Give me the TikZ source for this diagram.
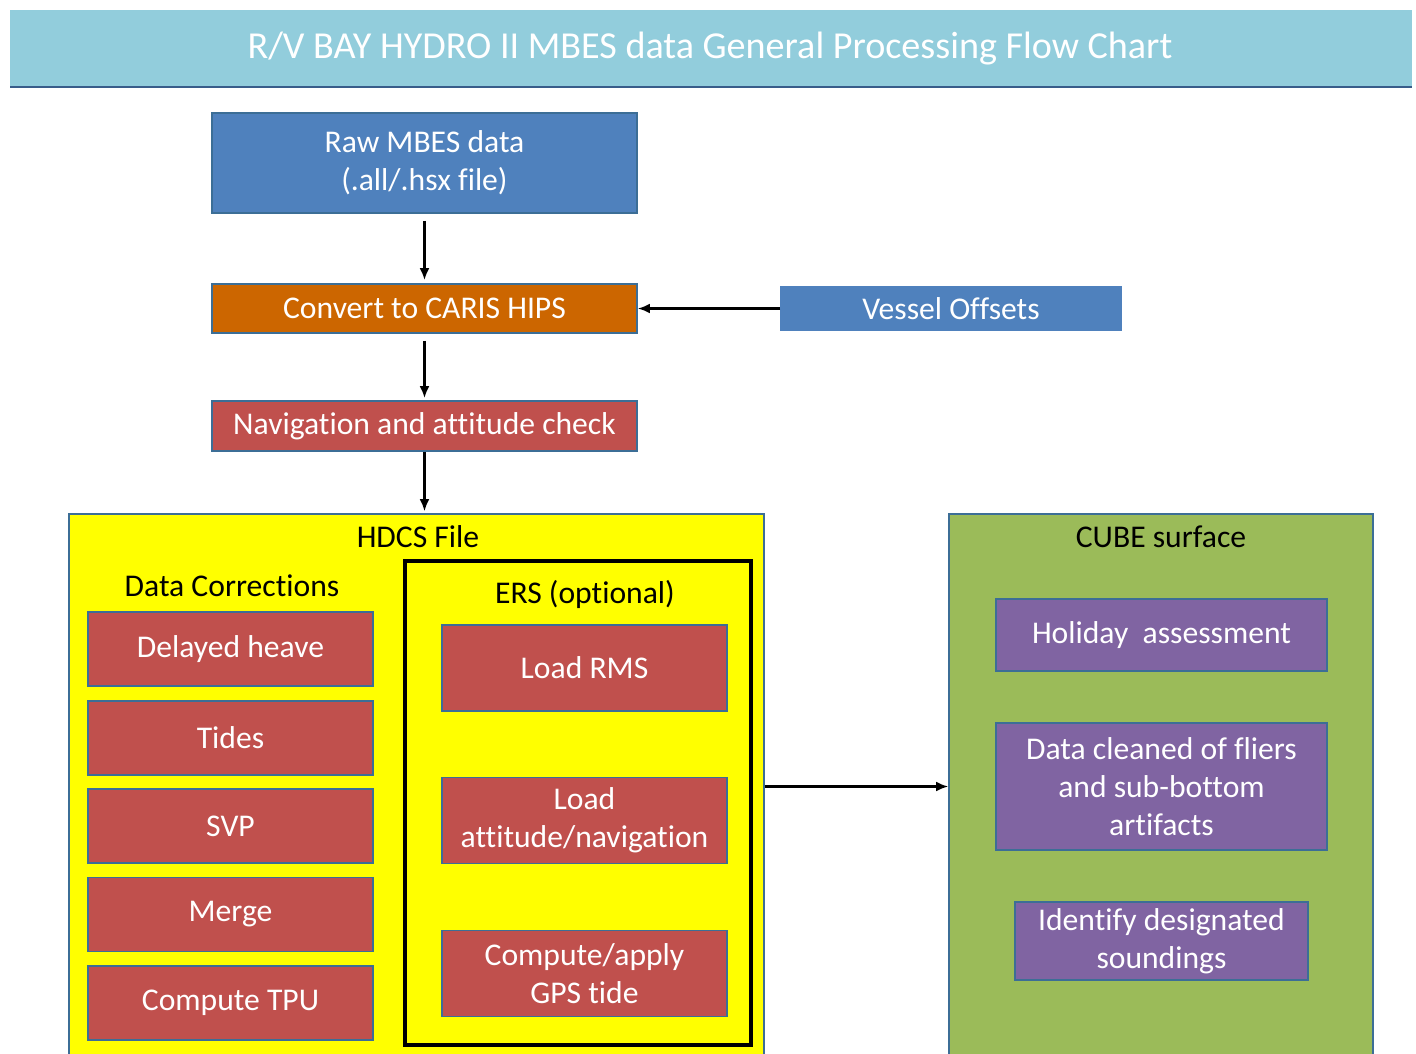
\documentclass[tikz,border=0pt]{standalone}
\usepackage{fontspec}
\setmainfont{Carlito}[Ligatures=NoCommon]
\usepackage{xcolor}
\usepackage{tikz}
\usetikzlibrary{arrows.meta}

\definecolor{titleblue}{RGB}{146,205,220}
\definecolor{titleline}{RGB}{56,93,138}
\definecolor{edgeblue}{RGB}{60,110,150}
\definecolor{mbesblue}{RGB}{79,129,189}
\definecolor{carisorange}{RGB}{204,102,0}
\definecolor{navred}{RGB}{192,80,77}
\definecolor{hdcsyellow}{RGB}{255,255,0}
\definecolor{cubegreen}{RGB}{155,187,89}
\definecolor{cubepurple}{RGB}{128,100,162}

\begin{document}
\begin{tikzpicture}[x=0.02cm, y=0.02cm,
    box/.style={draw=edgeblue, line width=1pt, text=white, align=center, inner sep=2pt,
      font=\fontsize{18}{21.5}\selectfont},
    lbl/.style={font=\fontsize{18}{21.5}\selectfont},
    arr/.style={-{Latex[length=0.24cm, width=0.2cm]}, line width=1.3pt}]
    \useasboundingbox (0,0) rectangle (1416,-1054);
    \clip (0,0) rectangle (1416,-1054);

    % title band
    \fill[titleblue] (10,-10) rectangle (1412,-86);
    \draw[titleline, line width=1.5pt] (10,-87) -- (1412,-87);
    \node[text=white, font=\fontsize{21.7}{26}\selectfont] (title) at (710,-49)
      {R/V BAY HYDRO II MBES data General Processing Flow Chart};

    \node[box, fill=mbesblue, minimum width=8.5cm, minimum height=2cm] (raw) at (424.5,-163)
      {Raw MBES data\\(.all/.hsx file)};
    \node[box, fill=carisorange, minimum width=8.5cm, minimum height=0.98cm] (convert) at (424.5,-308.5)
      {Convert to CARIS HIPS};
    \node[box, fill=mbesblue, draw=mbesblue, minimum width=6.8cm, minimum height=0.86cm] (vessel) at (951,-308.5)
      {Vessel Offsets};
    \node[box, fill=navred, minimum width=8.5cm, minimum height=1cm] (nav) at (424.5,-426)
      {Navigation and attitude check};

    \draw[arr, shorten <=0.14cm, shorten >=0.06cm] (raw) -- (convert);
    \draw[arr] (vessel) -- (convert);
    \draw[arr, shorten <=0.14cm, shorten >=0.04cm] (convert) -- (nav);

    % HDCS file
    \node[draw=edgeblue, fill=hdcsyellow, line width=1pt, inner sep=0pt,
      minimum width=13.9cm, minimum height=11.32cm] (hdcs) at (416.5,-797) {};
    \draw[arr, shorten >=0.04cm] (nav) -- (hdcs.north -| nav);
    \node[lbl] (hdcslbl) at (418,-537) {HDCS File};
    \node[lbl] (corrlbl) at (232,-586) {Data Corrections};
    \foreach \name/\txt/\y in {heave/Delayed heave/649, tides/Tides/738, svp/SVP/826,
        merge/Merge/914.5, tpu/Compute TPU/1003}
      \node[box, fill=navred, minimum width=5.7cm, minimum height=1.48cm] (\name) at (230.5,-\y) {\txt};

    \node[draw, line width=2pt, inner sep=0pt, minimum width=6.92cm, minimum height=9.68cm] (ers) at (578,-803) {};
    \node[lbl] (erslbl) at (585,-594) {ERS (optional)};
    \node[box, fill=navred, minimum width=5.7cm, minimum height=1.72cm] (rms) at (584.5,-668) {Load RMS};
    \node[box, fill=navred, minimum width=5.7cm, minimum height=1.72cm] (attnav) at (584.5,-820.5)
      {Load\\attitude/navigation};
    \node[box, fill=navred, minimum width=5.7cm, minimum height=1.72cm] (gpstide) at (584.5,-973.5)
      {Compute/apply\\GPS tide};

    % CUBE surface
    \node[draw=edgeblue, fill=cubegreen, line width=1pt, inner sep=0pt,
      minimum width=8.48cm, minimum height=11.32cm] (cube) at (1161,-797) {};
    \node[lbl] (cubelbl) at (1161,-537) {CUBE surface};
    \node[box, fill=cubepurple, minimum width=6.62cm, minimum height=1.44cm] (holiday) at (1161.5,-635)
      {Holiday~ assessment};
    \node[box, fill=cubepurple, minimum width=6.62cm, minimum height=2.54cm] (cleaned) at (1161.5,-786.5)
      {Data cleaned of fliers\\and sub-bottom\\artifacts};
    \node[box, fill=cubepurple, minimum width=5.86cm, minimum height=1.56cm] (identify) at (1161.5,-941)
      {Identify designated\\soundings};

    \draw[arr] (hdcs.east |- cleaned) -- (cube.west |- cleaned);
\end{tikzpicture}
\end{document}
